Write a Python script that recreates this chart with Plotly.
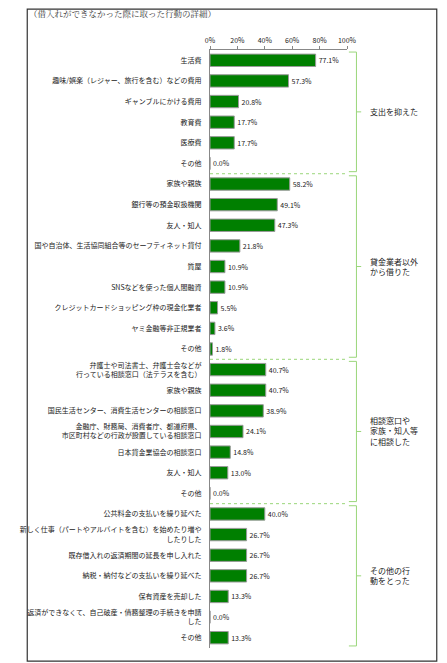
import plotly.graph_objects as go

categories = [
    "生活費", "趣味/娯楽（レジャー、旅行を含む）などの費用", "ギャンブルにかける費用", "教育費", "医療費", "その他",
    "家族や親族", "銀行等の預金取扱機関", "友人・知人", "国や自治体、生活協同組合等のセーフティネット貸付", "質屋",
    "SNSなどを使った個人間融資", "クレジットカードショッピング枠の現金化業者", "ヤミ金融等非正規業者", "その他",
    "弁護士や司法書士、弁護士会などが<br>行っている相談窓口（法テラスを含む）", "家族や親族",
    "国民生活センター、消費生活センターの相談窓口",
    "金融庁、財務局、消費者庁、都道府県、<br>市区町村などの行政が設置している相談窓口",
    "日本貸金業協会の相談窓口", "友人・知人", "その他",
    "公共料金の支払いを繰り延べた", "新しく仕事（パートやアルバイトを含む）を始めたり増や<br>したりした",
    "既存借入れの返済期間の延長を申し入れた", "納税・納付などの支払いを繰り延べた", "保有資産を売却した",
    "返済ができなくて、自己破産・債務整理の手続きを申請<br>した", "その他",
]
values = [77.1, 57.3, 20.8, 17.7, 17.7, 0.0,
          58.2, 49.1, 47.3, 21.8, 10.9, 10.9, 5.5, 3.6, 1.8,
          40.7, 40.7, 38.9, 24.1, 14.8, 13.0, 0.0,
          40.0, 26.7, 26.7, 26.7, 13.3, 0.0, 13.3]
group_labels = ["支出を抑えた", "貸金業者以外<br>から借りた", "相談窓口や<br>家族・知人等<br>に相談した", "その他の行<br>動をとった"]
group_sizes = [6, 9, 7, 7]
x_ticks = [0, 20, 40, 60, 80, 100]

n = len(categories)
idx = list(range(n))
FONT = "Noto Sans CJK JP"

fig = go.Figure(go.Bar(
    x=values, y=idx, orientation="h", width=0.6,
    marker=dict(color="#007f00", line=dict(color="#9a9a9a", width=1)),
    text=[f"{v:.1f}%" for v in values], textposition="outside",
    textfont=dict(size=7, color="#222"), cliponaxis=False,
))

OFF = 8
W, H = 439, 655
L, R, T, B = 194, 100, 42, 15
pw, ph = W - L - R, H - T - B
def px(x): return (x - OFF - L) / pw
def py(y): return (H - B - (y - OFF)) / ph

shapes = []
annotations = []
shapes.append(dict(type="rect", xref="paper", yref="paper", x0=-L / pw + 0.004, x1=(W - 5 - L) / pw,
                   y0=-B / ph + 0.003, y1=(H - B) / ph - 0.002,
                   line=dict(color="#333", width=1.2)))
start = 0
for gi, size in enumerate(group_sizes):
    top, bot = start - 0.5, start + size - 0.5
    if gi > 0:
        shapes.append(dict(type="line", xref="paper", yref="y", x0=0, x1=px(345), y0=top, y1=top,
                           line=dict(color="#9ad67a", width=1, dash="dot")))
    mid = (top + bot) / 2
    bx = px(357)
    shapes.append(dict(type="path", xref="paper", yref="y",
                       path=f"M {px(349)},{top+0.1} L {bx},{top+0.1} L {bx},{bot-0.1} L {px(349)},{bot-0.1}",
                       line=dict(color="#9ad67a", width=1)))
    shapes.append(dict(type="line", xref="paper", yref="y", x0=bx, x1=px(362), y0=mid, y1=mid,
                       line=dict(color="#9ad67a", width=1)))
    annotations.append(dict(xref="paper", yref="y", x=px(369), y=mid, text=group_labels[gi],
                            showarrow=False, xanchor="left", align="left",
                            font=dict(size=8, color="#222", family=FONT)))
    start += size

annotations.append(dict(xref="paper", yref="paper", x=px(8), y=py(13), text="（借入れができなかった際に取った行動の詳細）",
                        showarrow=False, xanchor="left", yanchor="middle",
                        font=dict(size=8.5, color="#333", family="Noto Serif CJK JP, " + FONT)))

fig.update_layout(
    width=W, height=H, margin=dict(l=L, r=R, t=T, b=B),
    paper_bgcolor="white", plot_bgcolor="white", showlegend=False,
    font=dict(family=FONT, size=7, color="#222"),
    shapes=shapes, annotations=annotations,
    xaxis=dict(range=[0, 100], side="top", tickvals=x_ticks, ticktext=[f"{t}%" for t in x_ticks],
               showgrid=False, zeroline=False, showline=True, linecolor="#888", ticks="outside",
               ticklen=3, tickcolor="#888", tickfont=dict(size=7)),
    yaxis=dict(range=[n - 0.5, -0.5], tickvals=idx, ticktext=categories, showgrid=False, zeroline=False,
               showline=True, linecolor="#888", ticks="", tickfont=dict(size=7), ticklabelstandoff=6),
)
fig.write_html("out.html")
